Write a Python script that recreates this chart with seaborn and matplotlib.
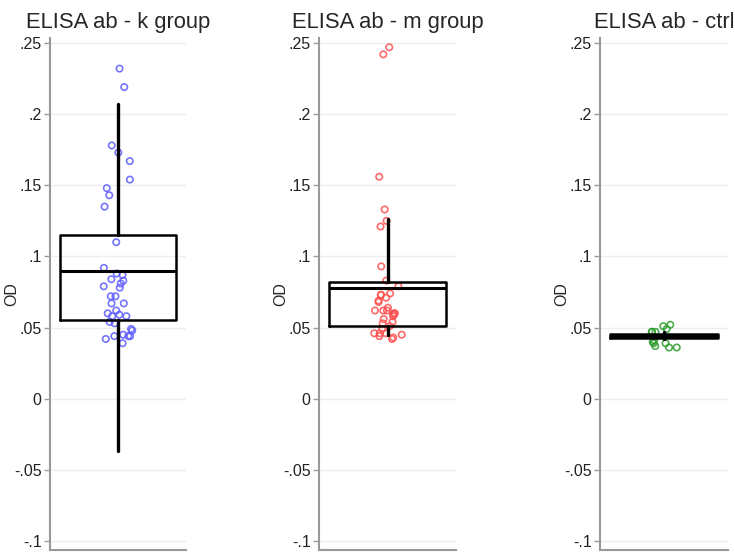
import numpy as np
import pandas as pd
import matplotlib
matplotlib.use("Agg")
import matplotlib.pyplot as plt
import seaborn as sns

# OD values
k_od = [0.232, 0.219, 0.178, 0.173, 0.167, 0.154, 0.148, 0.143, 0.135,
        0.110, 0.092, 0.088, 0.087, 0.084, 0.083, 0.081, 0.079, 0.078,
        0.072, 0.072, 0.067, 0.067, 0.062, 0.060, 0.059, 0.058, 0.058,
        0.054, 0.053, 0.049, 0.048, 0.045, 0.044, 0.044, 0.044, 0.042, 0.039]
m_od = [0.247, 0.242, 0.156, 0.133, 0.125, 0.121, 0.093, 0.083, 0.079,
        0.074, 0.073, 0.073, 0.071, 0.069, 0.068, 0.064, 0.062, 0.062,
        0.062, 0.060, 0.060, 0.059, 0.058, 0.056, 0.054, 0.053, 0.051,
        0.049, 0.046, 0.046, 0.046, 0.045, 0.044, 0.043, 0.042]
ctrl_od = [0.052, 0.051, 0.049, 0.047, 0.047, 0.047, 0.041, 0.040,
           0.039, 0.039, 0.037, 0.036, 0.036]

titles = ["ELISA ab - k group", "ELISA ab - m group", "ELISA ab - ctrl"]
colors = ["#5c5cff", "#ff4f4f", "#2e9e2e"]

# box stats
q1 = [0.055, 0.051, 0.0425]
medians = [0.090, 0.078, 0.044]
q3 = [0.115, 0.082, 0.0455]
whislo = [-0.037, 0.045, 0.042]
whishi = [0.207, 0.126, 0.047]

yticks = [-0.1, -0.05, 0, 0.05, 0.1, 0.15, 0.2, 0.25]
ytick_labels = ["-.1", "-.05", "0", ".05", ".1", ".15", ".2", ".25"]

data = pd.DataFrame({
    "group": ["k"] * len(k_od) + ["m"] * len(m_od) + ["ctrl"] * len(ctrl_od),
    "OD": k_od + m_od + ctrl_od,
})
group_keys = ["k", "m", "ctrl"]

sns.set_style("white")
plt.rcParams["font.family"] = ["Liberation Sans", "DejaVu Sans"]

fig = plt.figure(figsize=(7.35, 5.54), dpi=100)
W, H = 735, 554
# axes boxes in pixels: left, width
boxes = [(50, 136), (319, 137), (600, 128)]
top_px, bottom_px = 38, 550

np.random.seed(3)
for i, key in enumerate(group_keys):
    left, width = boxes[i]
    ax = fig.add_axes([left / W, 1 - bottom_px / H, width / W,
                       (bottom_px - top_px) / H])
    sub = data[data["group"] == key]
    sns.stripplot(y="OD", data=sub, ax=ax, jitter=0.11, size=4.6,
                  linewidth=1.2, zorder=2)
    coll = ax.collections[-1]
    coll.set_facecolor("none")
    coll.set_edgecolor(colors[i])
    coll.set_alpha(0.85)

    stats = [{"q1": q1[i], "med": medians[i], "q3": q3[i],
              "whislo": whislo[i], "whishi": whishi[i], "fliers": []}]
    ax.bxp(stats, positions=[0], widths=0.85, showcaps=False,
           boxprops=dict(color="black", linewidth=1.8),
           medianprops=dict(color="black", linewidth=2.2),
           whiskerprops=dict(color="black", linewidth=2.4),
           manage_ticks=False, zorder=3)

    ax.set_xlim(-0.5, 0.5)
    ax.set_ylim(-0.1063, 0.2535)
    ax.set_yticks(yticks)
    ax.set_yticklabels(ytick_labels)
    ax.set_xticks([])
    ax.set_xlabel("")
    ax.set_ylabel("OD", fontsize=11.5)
    ax.yaxis.set_label_coords(-31 / width, 0.5)
    ax.set_title(titles[i], fontsize=15.8, pad=7)
    ax.grid(axis="y", color="#eeeeee", linewidth=1)
    ax.set_axisbelow(True)
    for s in ["top", "right"]:
        ax.spines[s].set_visible(False)
    for s in ["left", "bottom"]:
        ax.spines[s].set_color("#999999")
        ax.spines[s].set_linewidth(1.5)
    ax.tick_params(axis="y", left=True, length=4, width=1, color="#999999",
                   labelsize=11.5, labelcolor="#222222", pad=2)

fig.savefig("out.png", dpi=100)
